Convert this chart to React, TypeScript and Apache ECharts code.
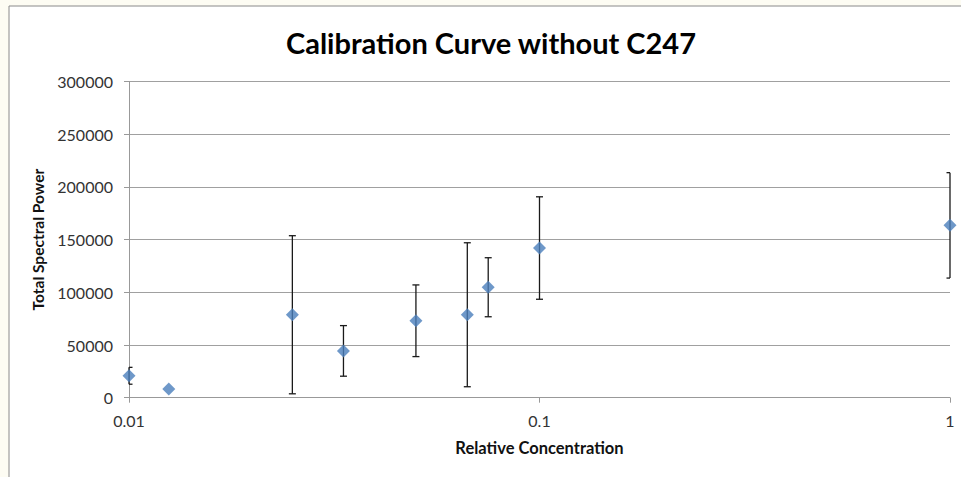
import React, { useEffect, useRef } from "react";
import * as echarts from "echarts";

const concentrations = [0.01, 0.0125, 0.025, 0.0333, 0.05, 0.0667, 0.075, 0.1, 1];
const spectralPower = [20800, 8300, 78700, 44400, 73000, 78700, 104800, 142000, 163500];
const errorAmounts = [8000, 0, 75000, 24000, 34000, 68300, 28000, 48600, 50000];
const yTicks = [0, 50000, 100000, 150000, 200000, 250000, 300000];

const FONT = "Lato, 'Open Sans', sans-serif";

export default function App() {
  const ref = useRef<HTMLDivElement>(null);
  useEffect(() => {
    if (!ref.current) return;
    const chart = echarts.init(ref.current, null, { renderer: "svg" });
    const points = concentrations.map((c, i) => [c, spectralPower[i]]);
    const bars = concentrations
      .map((c, i) => [c, spectralPower[i], errorAmounts[i]])
      .filter((d) => d[2] > 0);
    chart.setOption({
      animation: false,
      backgroundColor: "#fdfcf3",
      graphic: [
        {
          type: "rect",
          z: -10,
          silent: true,
          shape: { x: 9, y: 6, width: 970, height: 490 },
          style: { fill: "#ffffff", stroke: "#8a8a8a", lineWidth: 1 },
        },
        {
          type: "text",
          x: 491,
          y: 42,
          style: {
            text: "Calibration Curve without C247",
            fontFamily: FONT,
            fontWeight: "bold",
            fontSize: 29,
            fill: "#000",
            align: "center",
            verticalAlign: "middle",
          },
        },
      ],
      grid: { left: 129, right: 11, top: 81.5, bottom: 79.3, containLabel: false },
      xAxis: {
        type: "log",
        logBase: 10,
        min: 0.01,
        max: 1,
        name: "Relative Concentration",
        nameLocation: "middle",
        nameGap: 42,
        nameTextStyle: { fontFamily: FONT, fontWeight: "bold", fontSize: 16.5, color: "#111" },
        axisLine: { show: true, lineStyle: { color: "#999", width: 1 } },
        axisTick: { show: true, length: 5, lineStyle: { color: "#999" } },
        minorTick: { show: false },
        splitLine: { show: false },
        axisLabel: {
          fontFamily: FONT,
          fontSize: 16,
          color: "#333",
          margin: 15,
          formatter: (v: number) => String(+v.toPrecision(3)),
        },
      },
      yAxis: {
        type: "value",
        min: yTicks[0],
        max: yTicks[yTicks.length - 1],
        interval: yTicks[1] - yTicks[0],
        name: "Total Spectral Power",
        nameLocation: "middle",
        nameGap: 74,
        nameTextStyle: { fontFamily: FONT, fontWeight: "bold", fontSize: 15.5, color: "#111" },
        axisLine: { show: true, lineStyle: { color: "#999", width: 1 } },
        axisTick: { show: true, length: 5, lineStyle: { color: "#999" } },
        splitLine: { show: true, lineStyle: { color: "#a0a0a0", width: 1 } },
        axisLabel: {
          fontFamily: FONT,
          fontSize: 16,
          color: "#333",
          margin: 16,
          formatter: (v: number) => String(v),
        },
      },
      series: [
        {
          type: "custom",
          name: "error",
          z: 2,
          data: bars,
          encode: { x: 0, y: 1 },
          renderItem: (params: any, api: any) => {
            const x = api.value(0);
            const y = api.value(1);
            const e = api.value(2);
            const top = api.coord([x, y + e]);
            const bot = api.coord([x, y - e]);
            const cs = params.coordSys;
            const left = cs.x;
            const right = cs.x + cs.width;
            const cx = top[0];
            const half = 3.5;
            const l = Math.max(cx - half, left);
            const r = Math.min(cx + half, right);
            const style = { stroke: "#1a1a1a", lineWidth: 1.3 };
            return {
              type: "group",
              children: [
                { type: "line", shape: { x1: cx, y1: top[1], x2: cx, y2: bot[1] }, style },
                { type: "line", shape: { x1: l, y1: top[1], x2: r, y2: top[1] }, style },
                { type: "line", shape: { x1: l, y1: bot[1], x2: r, y2: bot[1] }, style },
              ],
            };
          },
        },
        {
          type: "scatter",
          name: "Total Spectral Power",
          z: 3,
          symbol: "diamond",
          symbolSize: 13,
          itemStyle: { color: "#4a7ebb" },
          data: points,
        },
      ],
    });
    return () => chart.dispose();
  }, []);
  return (
    <div
      ref={ref}
      style={{ position: "absolute", left: 0, top: 0, width: 961, height: 477 }}
    />
  );
}
